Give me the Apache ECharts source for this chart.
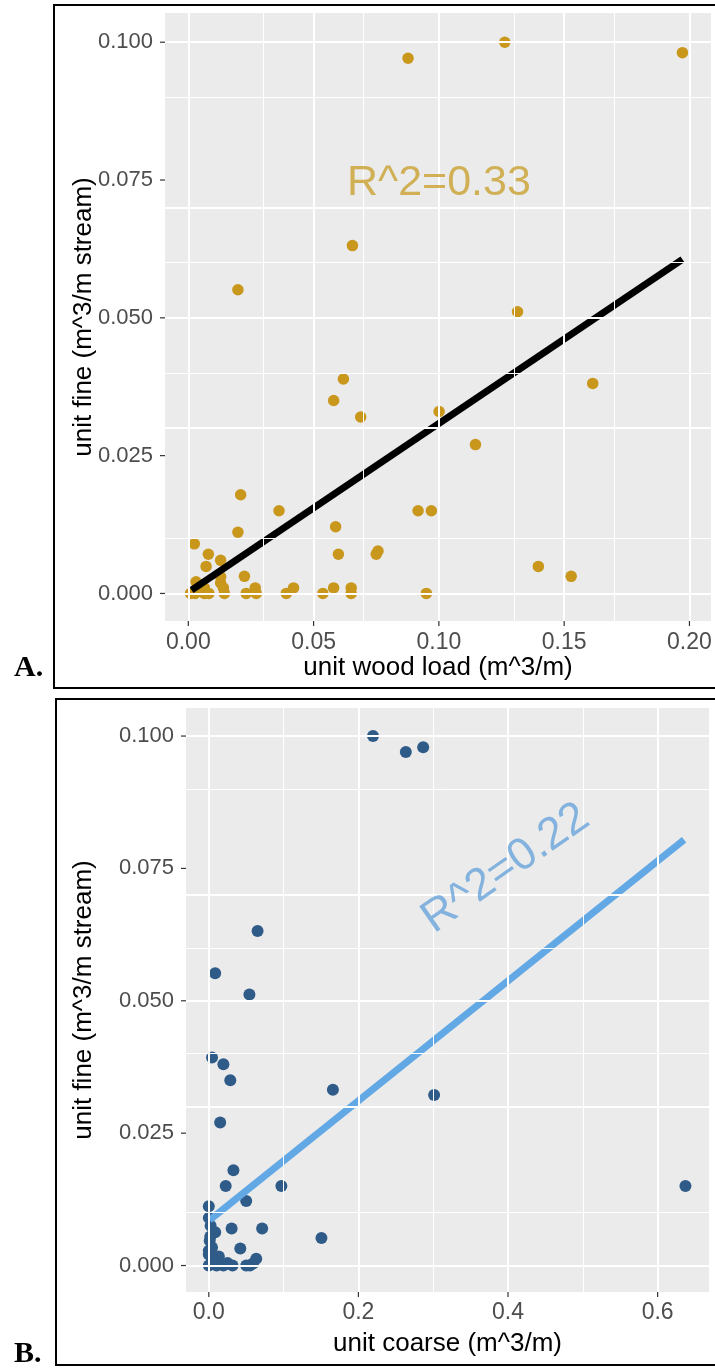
<!DOCTYPE html>
<html>
<head>
<meta charset="utf-8">
<script src="https://cdn.jsdelivr.net/npm/echarts@6/dist/echarts.min.js"></script>
<style>
html,body{margin:0;padding:0;background:#fff;}
#c{width:715px;height:1368px;}
</style>
</head>
<body>
<div id="c"></div>
<script>
// ---------- DATA ----------
// Panel A: unit wood load (x) vs unit fine (y)
const woodLoad = [0.0877,0.1263,0.1972,0.0655,0.0198,0.1314,0.0619,0.1614,0.0580,0.0688,0.1001,0.1146,0.0209,0.0362,0.0917,0.0970,0.0198,0.0588,0.0024,0.0080,0.0599,0.0750,0.0757,0.0071,0.0129,0.1397,0.1528,0.0224,0.0031,0.0129,0.0129,0.0267,0.0420,0.0580,0.0650,0.0064,0.0140,0.0009,0.0027,0.0064,0.0082,0.0144,0.0231,0.0271,0.0391,0.0537,0.0650,0.0950];
const fineA    = [0.0971,0.1000,0.0981,0.0631,0.0551,0.0511,0.0389,0.0381,0.0350,0.0320,0.0330,0.0270,0.0179,0.0150,0.0150,0.0150,0.0111,0.0121,0.0090,0.0071,0.0071,0.0071,0.0077,0.0049,0.0060,0.0049,0.0031,0.0031,0.0021,0.0019,0.0030,0.0010,0.0010,0.0010,0.0010,0.0010,0.0010,0,0,0,0,0,0,0,0,0,0,0];
// Panel B: unit coarse (x) vs unit fine (y)
const coarse = [0.2195,0.2634,0.2866,0.0652,0.0085,0.0543,0.0043,0.0195,0.0287,0.1659,0.3012,0.0152,0.0329,0.0226,0.0970,0.6372,0.0500,0.0000,0.0305,0.0713,0.1506,0.0421,0.0000,0.0024,0.0085,0.0012,0.0043,0.0000,0.0073,0.0134,0.0000,0.0104,0.0195,0.0317,0.0500,0.0549,0.0591,0.0634,0.0020,0.0000,0.0050,0.0250];
const fineB  = [0.1000,0.0970,0.0979,0.0632,0.0552,0.0512,0.0393,0.0380,0.0350,0.0332,0.0322,0.0270,0.0180,0.0150,0.0150,0.0150,0.0122,0.0112,0.0070,0.0070,0.0052,0.0032,0.0090,0.0075,0.0063,0.0047,0.0034,0.0021,0.0013,0.0017,0.0000,0.0000,0.0000,0.0000,0.0000,0.0000,0.0004,0.0013,0.0055,0.0028,0.0010,0.0005];
// Fitted regression line endpoints (data units)
const fitA = [[0.0013,0.0006],[0.1972,0.0606]];
const fitB = [[0.0012,0.0086],[0.6354,0.0804]];
// Annotations
const annotA = {pos:[0.1,0.0745], text:'R^2=0.33'};
const annotB = {pos:[0.397,0.075], text:'R^2=0.22'};
// Axis ticks
const yTicks = [0,0.025,0.05,0.075,0.1];
const yMinor = [0.0125,0.0375,0.0625,0.0875];
const xTicksA = [0,0.05,0.1,0.15,0.2];
const xMinorA = [0.025,0.075,0.125,0.175];
const xTicksB = [0,0.2,0.4,0.6];
const xMinorB = [0.1,0.3,0.5];
const titles = {xA:'unit wood load (m^3/m)', xB:'unit coarse (m^3/m)', y:'unit fine (m^3/m stream)'};
const panelLabels = ['A.','B.'];

// ---------- CHART ----------
const FONT = 'Liberation Sans, Arial, sans-serif';
const chart = echarts.init(document.getElementById('c'), null, {renderer:'canvas'});
const zip = (a,b)=>a.map((v,i)=>[v,b[i]]);
const xRange = [[-0.0093, 0.2086], [-0.0305, 0.6687]];
const yRange = [-0.005, 0.1053];

function xAxisCfg(idx, ticks, digits, name, gap, margin){
  return {
    type:'value', gridIndex:idx, min:xRange[idx][0], max:xRange[idx][1],
    name:name, nameLocation:'middle', nameGap:gap, nameMoveOverlap:false,
    nameTextStyle:{color:'#000', fontSize:26, fontFamily:FONT},
    axisLine:{show:false},
    axisTick:{show:false},
    axisLabel:{show:true, customValues:ticks, margin:margin, color:'#4d4d4d', fontSize:23, fontFamily:FONT,
      formatter:v=>Number(v).toFixed(digits)},
    splitLine:{show:false}
  };
}
function yAxisCfg(idx, gap){
  return {
    type:'value', gridIndex:idx, min:yRange[0], max:yRange[1],
    name:titles.y, nameLocation:'middle', nameGap:gap, nameRotate:90, nameMoveOverlap:false,
    nameTextStyle:{color:'#000', fontSize:26, fontFamily:FONT},
    axisLine:{show:false},
    axisTick:{show:false},
    axisLabel:{show:true, customValues:yTicks, margin:12, color:'#4d4d4d', fontSize:22, fontFamily:FONT,
      formatter:v=>Number(v).toFixed(3)},
    splitLine:{show:false}
  };
}
function gridLines(idx, xMaj, xMin){
  const d = [];
  xMin.forEach(v=>d.push({xAxis:v, lineStyle:{width:1}}));
  yMinor.forEach(v=>d.push({yAxis:v, lineStyle:{width:1}}));
  xMaj.forEach(v=>d.push({xAxis:v, lineStyle:{width:2}}));
  yTicks.forEach(v=>d.push({yAxis:v, lineStyle:{width:2}}));
  return {
    type:'scatter', xAxisIndex:idx, yAxisIndex:idx, data:[], z:1, silent:true,
    markLine:{silent:true, symbol:'none', label:{show:false}, animation:false,
      lineStyle:{color:'#ffffff', type:'solid'}, data:d}
  };
}
function annot(idx, a, color, rot, size){
  return {
    type:'scatter', xAxisIndex:idx, yAxisIndex:idx, data:[a.pos], symbolSize:0, z:5, silent:true,
    label:{show:true, position:'inside', formatter:a.text, color:color, fontSize:size, fontFamily:FONT, rotate:rot}
  };
}

const baseGraphic = [
  {type:'rect', shape:{x:54, y:5, width:670, height:683}, style:{fill:'none', stroke:'#000', lineWidth:2}, z:10, silent:true},
  {type:'rect', shape:{x:56, y:699, width:670, height:666}, style:{fill:'none', stroke:'#000', lineWidth:2}, z:10, silent:true},
  {type:'text', x:14, y:668, style:{text:panelLabels[0], font:'bold 30px "Liberation Serif", "Times New Roman", serif', fill:'#000', verticalAlign:'middle'}, z:10},
  {type:'text', x:14, y:1354, style:{text:panelLabels[1], font:'bold 30px "Liberation Serif", "Times New Roman", serif', fill:'#000', verticalAlign:'middle'}, z:10}
];

const option = {
  animation:false,
  backgroundColor:'#ffffff',
  grid:[
    {left:165, top:13, width:546, height:608, show:true, backgroundColor:'#EBEBEB', borderWidth:0, containLabel:false},
    {left:186, top:708, width:523, height:584, show:true, backgroundColor:'#EBEBEB', borderWidth:0, containLabel:false}
  ],
  xAxis:[
    xAxisCfg(0, xTicksA, 2, titles.xA, 34, 10),
    xAxisCfg(1, xTicksB, 1, titles.xB, 39, 9)
  ],
  yAxis:[ yAxisCfg(0, 68), yAxisCfg(1, 89) ],
  series:[
    gridLines(0, xTicksA, xMinorA),
    gridLines(1, xTicksB, xMinorB),
    {type:'scatter', xAxisIndex:0, yAxisIndex:0, data:zip(woodLoad, fineA), symbolSize:11.5, z:2,
      itemStyle:{color:'#C8971C', opacity:1}},
    {type:'scatter', xAxisIndex:1, yAxisIndex:1, data:zip(coarse, fineB), symbolSize:12, z:2,
      itemStyle:{color:'#2F5B88', opacity:1}},
    {type:'line', xAxisIndex:0, yAxisIndex:0, data:fitA, showSymbol:false, symbol:'none', z:3,
      lineStyle:{color:'#000000', width:7}},
    {type:'line', xAxisIndex:1, yAxisIndex:1, data:fitB, showSymbol:false, symbol:'none', z:3,
      lineStyle:{color:'#62A8E5', width:7}},
    annot(0, annotA, '#C9A030', 0, 43),
    annot(1, annotB, '#68A4DA', 35, 45)
  ],
  graphic: baseGraphic
};
chart.setOption(option);

// Tick marks placed through the axes' own scales
const tickGraphic = [];
const xTickSets = [xTicksA, xTicksB];
[0,1].forEach(idx=>{
  const left = chart.convertToPixel({xAxisIndex:idx}, xRange[idx][0]);
  const bottom = chart.convertToPixel({yAxisIndex:idx}, yRange[0]);
  yTicks.forEach(v=>{
    const py = chart.convertToPixel({yAxisIndex:idx}, v);
    tickGraphic.push({type:'line', shape:{x1:left-5, y1:py, x2:left, y2:py}, style:{stroke:'#333', lineWidth:1.2}, silent:true, z:10});
  });
  xTickSets[idx].forEach(v=>{
    const px = chart.convertToPixel({xAxisIndex:idx}, v);
    tickGraphic.push({type:'line', shape:{x1:px, y1:bottom, x2:px, y2:bottom+5}, style:{stroke:'#333', lineWidth:1.2}, silent:true, z:10});
  });
});
chart.setOption({graphic: baseGraphic.concat(tickGraphic)});
</script>
</body>
</html>
